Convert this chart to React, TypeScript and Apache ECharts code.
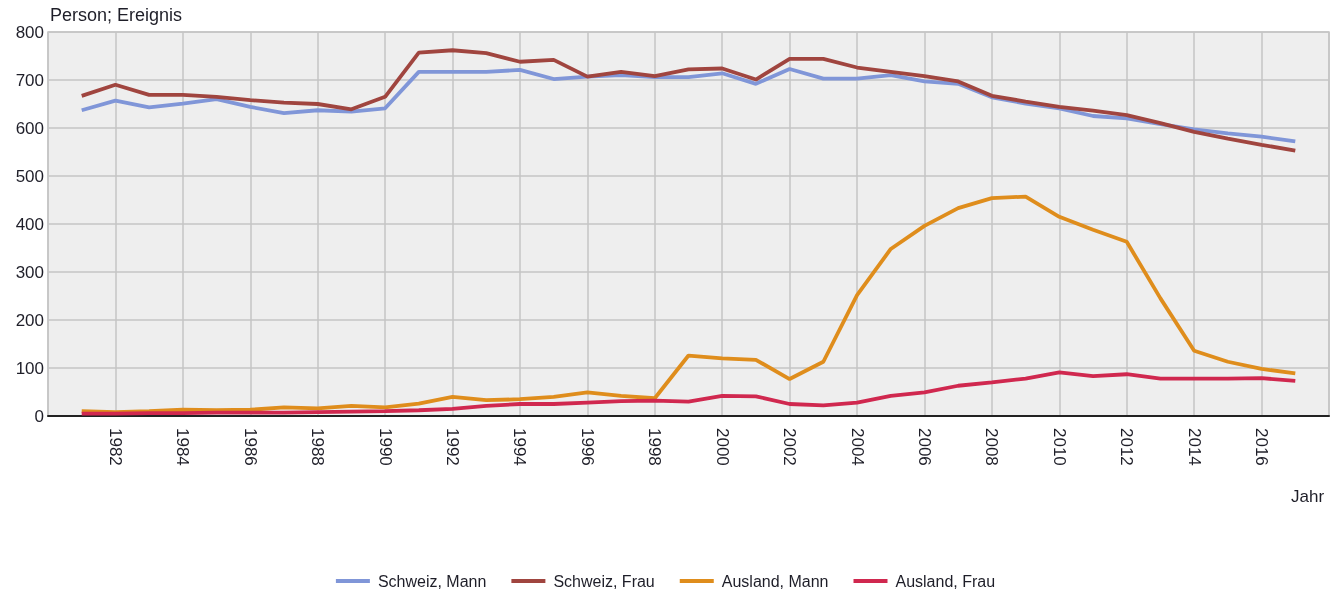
import React, { useEffect, useRef } from "react";
import * as echarts from "echarts";

const years = [1981,1982,1983,1984,1985,1986,1987,1988,1989,1990,1991,1992,1993,1994,1995,1996,1997,1998,1999,2000,2001,2002,2003,2004,2005,2006,2007,2008,2009,2010,2011,2012,2013,2014,2015,2016,2017];
const schweizMann = [637,657,643,651,660,644,631,637,634,641,717,717,717,721,702,707,710,706,706,714,692,723,703,703,710,697,692,664,651,641,625,620,608,597,589,582,572];
const schweizFrau = [667,690,669,669,665,658,653,650,639,665,757,762,756,738,742,707,717,708,722,724,701,744,744,726,717,708,697,667,655,644,636,627,610,592,578,565,553];
const auslandMann = [10,8,10,13,12,13,18,16,21,18,26,40,33,35,40,49,42,37,126,120,117,77,113,252,348,396,433,454,457,415,388,363,245,136,113,98,89];
const auslandFrau = [5,5,6,6,7,7,7,8,9,10,12,15,21,25,25,28,31,32,30,42,41,25,22,28,42,49,63,70,78,91,83,87,78,78,78,79,73];

const seriesNames = ["Schweiz, Mann", "Schweiz, Frau", "Ausland, Mann", "Ausland, Frau"];
const seriesColors = ["#8096d8", "#a0453f", "#df8d1c", "#d0284f"];
const seriesData = [schweizMann, schweizFrau, auslandMann, auslandFrau];

const FONT = "'Liberation Sans', Arial, sans-serif";
const TEXT = "#1e1e28";

export default function App() {
  const ref = useRef<HTMLDivElement>(null);
  useEffect(() => {
    if (!ref.current) return;
    const chart = echarts.init(ref.current, undefined, { renderer: "svg" });
    chart.setOption({
      animation: false,
      textStyle: { fontFamily: FONT },
      grid: {
        left: 48, right: 2, top: 32, bottom: 179,
        show: true, backgroundColor: "#eeeeee", borderColor: "#c4c4c4", borderWidth: 1.5,
      },
      legend: {
        top: 568, left: "center",
        itemWidth: 34, itemHeight: 4, itemGap: 25,
        icon: "rect",
        textStyle: { fontSize: 16, color: TEXT, fontFamily: FONT, padding: [0, 0, 0, 3] },
        data: seriesNames,
      },
      graphic: [
        { type: "text", left: 50, top: 6, style: { text: "Person; Ereignis", fontSize: 18, fill: TEXT, fontFamily: FONT } },
        { type: "text", left: 1291, top: 488, style: { text: "Jahr", fontSize: 17, fill: TEXT, fontFamily: FONT } },
      ],
      xAxis: {
        type: "value", min: 1980, max: 2018, interval: 2,
        axisLine: { show: true, onZero: false, lineStyle: { color: "#222", width: 2 } },
        axisTick: { show: false },
        axisLabel: {
          rotate: -90, fontSize: 17, color: TEXT, margin: 12, fontFamily: FONT,
          formatter: (v: number) => (v === 1980 || v === 2018 ? "" : String(v)),
        },
        splitLine: { show: true, lineStyle: { color: "#c4c4c4", width: 1.5 } },
      },
      yAxis: {
        type: "value", min: 0, max: 800, interval: 100,
        axisLine: { show: false },
        axisTick: { show: false },
        axisLabel: { fontSize: 17, color: TEXT, margin: 4, fontFamily: FONT },
        splitLine: { show: true, lineStyle: { color: "#c4c4c4", width: 1.5 } },
      },
      series: seriesNames.map((name, i) => ({
        name,
        type: "line",
        data: years.map((y, j) => [y, seriesData[i][j]]),
        showSymbol: false,
        symbol: "none",
        lineStyle: { color: seriesColors[i], width: 3.8 },
        itemStyle: { color: seriesColors[i] },
      })),
    });
    return () => chart.dispose();
  }, []);
  return <div ref={ref} style={{ position: "fixed", left: 0, top: 0, width: 1331, height: 595 }} />;
}
